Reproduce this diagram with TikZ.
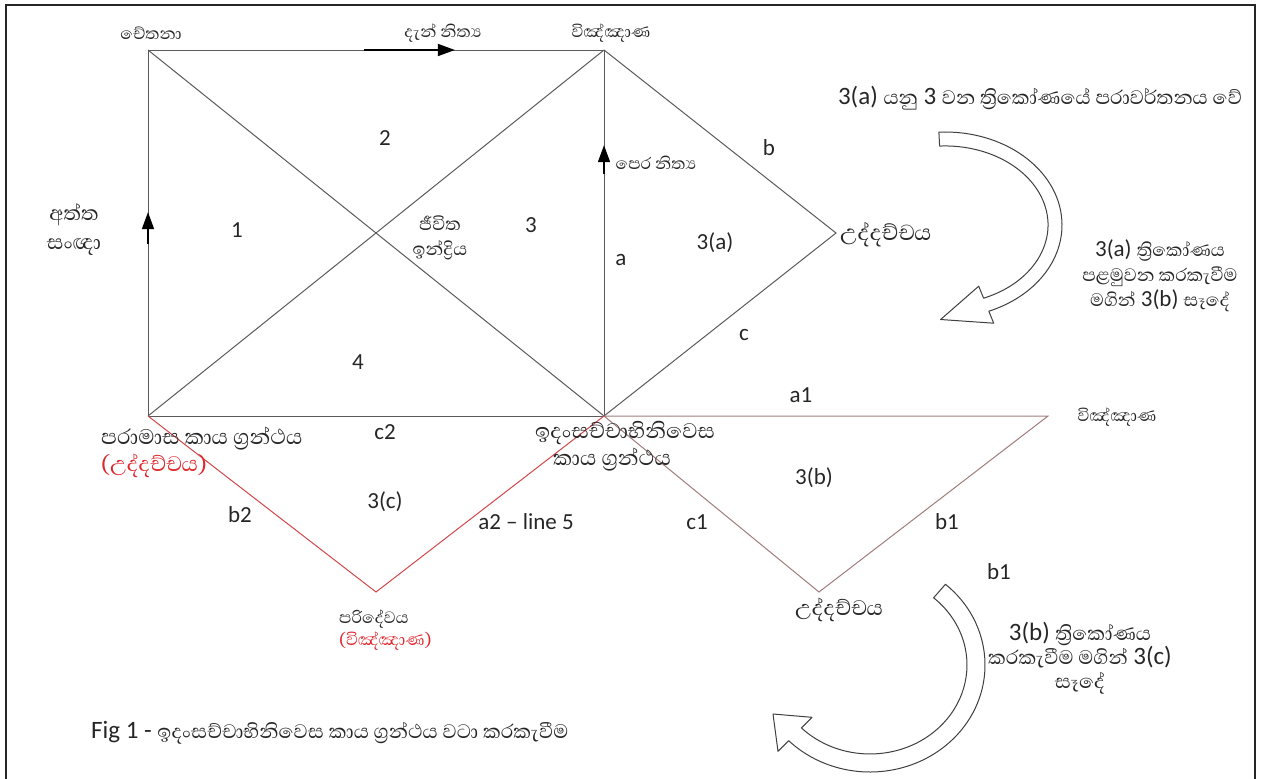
\documentclass[tikz,border=0pt]{standalone}
\usepackage{fontspec}
\setmainfont{Carlito}
\newfontfamily\sifont[Script=Sinhala]{Abhaya Libre}
\newcommand{\sitxt}[1]{{\sifont #1}}
\usetikzlibrary{arrows.meta, calc}
\definecolor{edgeGray}{HTML}{5A5A5A}
\definecolor{edgeRose}{HTML}{A07C7C}
\definecolor{edgeRed}{HTML}{D2474A}
\definecolor{txtRed}{HTML}{E0262B}
\definecolor{txtDark}{HTML}{262626}
\lineskiplimit=-100pt

\begin{document}
\begin{tikzpicture}[x=1pt, y=-1pt,
    edge/.style={edgeGray, line width=1pt},
    rose/.style={edgeRose, line width=1pt},
    redge/.style={edgeRed, line width=1pt},
    flow/.style={black, line width=1.6pt, -{Triangle[length=17pt, width=12pt]}},
    curl/.style={draw=black!75, fill=white, line width=1pt, line join=round},
    num/.style={text=txtDark, font=\fontsize{23}{26}\selectfont, inner sep=0pt},
    tag/.style={text=txtDark, font=\sifont\fontsize{21}{23}\selectfont, inner sep=0pt},
    tagb/.style={text=txtDark, font=\sifont\fontsize{27}{27}\selectfont, inner sep=0pt, align=left},
    note/.style={text=txtDark, inner sep=0pt, align=center}]
  \useasboundingbox (0,0) rectangle (1261,779);
  \draw[line width=2pt, black!85] (6,5) rectangle (1255,782);

  % corners of the square and the turned triangles
  \coordinate (cet)  at (148,50);
  \coordinate (vin)  at (604,50);
  \coordinate (par)  at (148,416);
  \coordinate (ida)  at (604,416);
  \coordinate (udd)  at (836,233);
  \coordinate (vinb) at (1048,416);
  \coordinate (uddb) at (819,592);
  \coordinate (pari) at (376,592);

  \draw[edge] (cet) -- (vin) -- (ida) -- (par) -- cycle;
  \draw[edge] (cet) -- (ida);
  \draw[edge] (par) -- (vin);
  \draw[edge] (vin) -- (udd) -- (ida);
  \draw[rose] (ida) -- (vinb) -- (uddb) -- cycle;
  \draw[redge] (par) -- (pari) -- (ida);

  \draw[flow] ($(cet)!0.474!(vin)$) -- ($(cet)!0.673!(vin)$);
  \draw[flow] ($(par)!0.47!(cet)$) -- ($(par)!0.557!(cet)$);
  \draw[flow] ($(ida)!0.66!(vin)$) -- ($(ida)!0.74!(vin)$);

  % curved turn arrows
  \draw[curl] (945,225) ++(-93:117 and 93)
    arc[start angle=-93, end angle=68, x radius=117, y radius=93]
    -- (993.7,323.2) -- (940.6,319.5) -- (978.7,286.2) -- (983.6,298.2)
    arc[start angle=68, end angle=-93, x radius=103, y radius=79] -- cycle;
  \draw[curl] (870,665) ++(-49:115 and 107)
    arc[start angle=-49, end angle=135, x radius=115, y radius=107]
    -- (778.0,751.3) -- (773.0,714.0) -- (812.0,717.3) -- (801.4,727.9)
    arc[start angle=135, end angle=-49, x radius=97, y radius=89] -- cycle;

  % corner names
  \node[tag] (lcet)  at (151,33) {චේතනා};
  \node[tag] (ldan)  at (443,33) {දැන් නිත්^^^^200dය};
  \node[tag] (lvin)  at (611,33) {විඤ්ඤාණ};
  \node[tag] (lper)  at (656,163) {පෙර නිත්^^^^200dය};
  \node[tagb, anchor=west, font=\sifont\fontsize{28}{23}\selectfont] (ludd) at (840,235) {උද්දච්චය};
  \node[tag] (lvinb) at (1117,417) {විඤ්ඤාණ};
  \node[tagb] (luddb) at (839,610) {උද්දච්චය};
  \node[tagb, align=center, font=\sifont\fontsize{26}{29}\selectfont] (latt) at (74,230) {අත්ත\\සංඥා};
  \node[tagb, align=center, font=\sifont\fontsize{23}{25}\selectfont] (ljiv) at (440,238) {ජීවිත\\ඉන්ද්^^^^200dරිය};
  \node[tagb, anchor=west] (lpar) at (101,452)
    {පරාමාස කාය ග්^^^^200dරන්ථය\\\textcolor{txtRed}{(උද්දච්චය)}};
  \node[tagb, anchor=west, font=\sifont\fontsize{27}{27}\selectfont] (lida) at (535,446)
    {ඉදංසච්චාභිනිවෙස\\\hspace*{18pt}කාය ග්^^^^200dරන්ථය};
  \node[tagb, anchor=west, font=\sifont\fontsize{21}{22}\selectfont] (lpari) at (339,630)
    {පරිදේවය\\\textcolor{txtRed}{(විඤ්ඤාණ)}};

  % triangle numbers and side names
  \node[num] (n1)  at (237,230) {1};
  \node[num] (n2)  at (385,138) {2};
  \node[num] (n3)  at (531,225) {3};
  \node[num] (n4)  at (358,362) {4};
  \node[num] (n3a) at (715,243) {3(a)};
  \node[num] (n3b) at (814,478) {3(b)};
  \node[num] (n3c) at (385,502) {3(c)};
  \node[num] (sa)  at (621,260) {a};
  \node[num] (sb)  at (769,148) {b};
  \node[num] (sc)  at (744,335) {c};
  \node[num] (sa1) at (801,395) {a1};
  \node[num] (sc1) at (697,522) {c1};
  \node[num] (sb1) at (947,522) {b1};
  \node[num] (sb1x) at (999,572) {b1};
  \node[num] (sc2) at (385,432) {c2};
  \node[num] (sb2) at (240,515) {b2};
  \node[num] (sa2) at (526,522) {a2 -- line 5};

  % notes
  \node[note, font=\fontsize{25}{28}\selectfont] (top) at (1040,98)
    {3(a) \sitxt{යනු} 3 \sitxt{වන ත්^^^^200dරිකෝණයේ පරාවර්තනය වේ}};
  \node[note, font=\fontsize{23}{25}\selectfont] (turn1) at (1160,276)
    {3(a) \sitxt{ත්^^^^200dරිකෝණය}\\\sitxt{පළමුවන කරකැවීම}\\\sitxt{මගින්} 3(b) \sitxt{සෑදේ}};
  \node[note, font=\fontsize{25}{24}\selectfont] (turn2) at (1080,658)
    {3(b) \sitxt{ත්^^^^200dරිකෝණය}\\\sitxt{කරකැවීම මගින්} 3(c)\\\sitxt{සෑදේ}};
  \node[note, anchor=west, font=\fontsize{25}{28}\selectfont] (cap) at (91,733)
    {Fig 1 - \sitxt{ඉදංසච්චාභිනිවෙස කාය ග්^^^^200dරන්ථය වටා කරකැවීම}};
\end{tikzpicture}
\end{document}
